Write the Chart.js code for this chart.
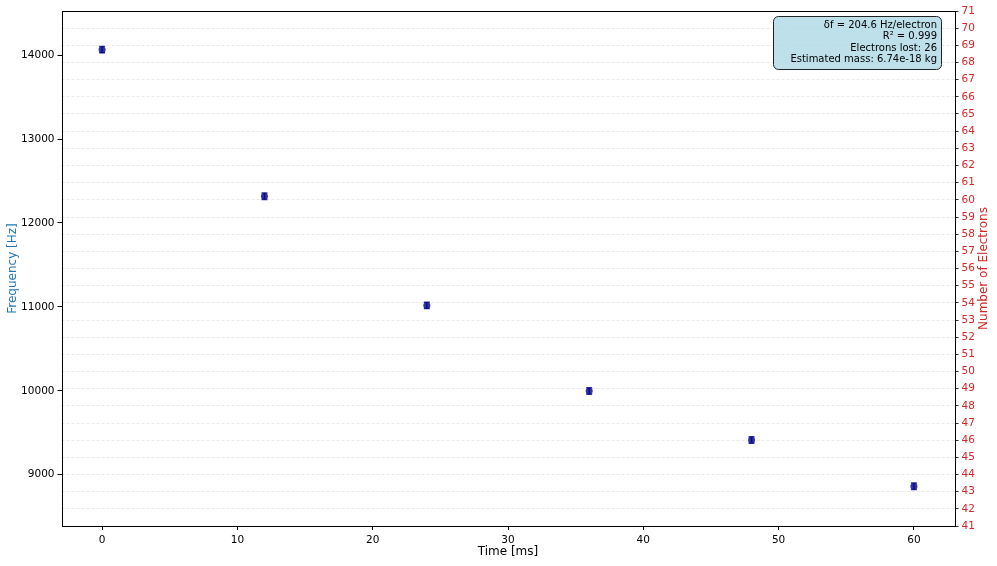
<!DOCTYPE html>
<html>
<head>
<meta charset="utf-8">
<script src="https://cdn.jsdelivr.net/npm/chart.js@4.4.1/dist/chart.umd.min.js"></script>
<style>
  html, body { margin: 0; padding: 0; background: #fff; }
  canvas { display: block; }
</style>
</head>
<body>
<canvas id="c" width="997" height="566"></canvas>
<script>
// ---- Data ----
const timesMs = [0, 12, 24, 36, 48, 60];
const frequenciesHz = [14066, 12318, 11018, 9998, 9413, 8863];
const freqErrorsHz = [38, 38, 38, 38, 38, 38];
const xTicks = [0, 10, 20, 30, 40, 50, 60];
const freqTicks = [9000, 10000, 11000, 12000, 13000, 14000];
const electronRange = [41, 71];
const deltaF = 204.6;
const annotationLines = [
  "\u03b4f = 204.6 Hz/electron",
  "R\u00b2 = 0.999",
  "Electrons lost: 26",
  "Estimated mass: 6.74e-18 kg"
];
const electronTicks = [];
for (let n = electronRange[0]; n <= electronRange[1]; n++) electronTicks.push(n);

const FONT = "'DejaVu Sans', sans-serif";
const RED = '#d62728';
const BLUE = '#1f77b4';

const errorBarPlugin = {
  id: 'errorBars',
  beforeDatasetsDraw(chart) {
    const ctx = chart.ctx;
    const xs = chart.scales.x, ys = chart.scales.y;
    ctx.save();
    ctx.strokeStyle = 'rgba(0,0,139,0.8)';
    ctx.lineWidth = 1.5;
    timesMs.forEach((t, i) => {
      const px = xs.getPixelForValue(t);
      const y1 = ys.getPixelForValue(frequenciesHz[i] - freqErrorsHz[i]);
      const y2 = ys.getPixelForValue(frequenciesHz[i] + freqErrorsHz[i]);
      ctx.beginPath();
      ctx.moveTo(px, y1); ctx.lineTo(px, y2);
      ctx.moveTo(px - 3, y1); ctx.lineTo(px + 3, y1);
      ctx.moveTo(px - 3, y2); ctx.lineTo(px + 3, y2);
      ctx.stroke();
    });
    ctx.restore();
  }
};

const decorPlugin = {
  id: 'decor',
  afterDraw(chart) {
    const ctx = chart.ctx;
    const a = chart.chartArea;
    ctx.save();
    // frame
    ctx.strokeStyle = '#000';
    ctx.lineWidth = 1;
    ctx.strokeRect(Math.round(a.left) + 0.5, Math.round(a.top) + 0.5,
                   Math.round(a.right - a.left), Math.round(a.bottom - a.top));
    // axis titles
    ctx.font = '12px ' + FONT;
    ctx.textAlign = 'center';
    ctx.textBaseline = 'middle';
    ctx.fillStyle = '#000';
    ctx.fillText('Time [ms]', (a.left + a.right) / 2, 552);
    const cy = (a.top + a.bottom) / 2;
    ctx.save();
    ctx.translate(13, cy);
    ctx.rotate(-Math.PI / 2);
    ctx.fillStyle = BLUE;
    ctx.fillText('Frequency [Hz]', 0, 0);
    ctx.restore();
    ctx.save();
    ctx.translate(984, cy);
    ctx.rotate(-Math.PI / 2);
    ctx.fillStyle = RED;
    ctx.fillText('Number of Electrons', 0, 0);
    ctx.restore();
    // annotation box
    const bx = 773.5, by = 16.5, bw = 168, bh = 53, r = 5;
    ctx.beginPath();
    ctx.moveTo(bx + r, by);
    ctx.lineTo(bx + bw - r, by);
    ctx.arcTo(bx + bw, by, bx + bw, by + r, r);
    ctx.lineTo(bx + bw, by + bh - r);
    ctx.arcTo(bx + bw, by + bh, bx + bw - r, by + bh, r);
    ctx.lineTo(bx + r, by + bh);
    ctx.arcTo(bx, by + bh, bx, by + bh - r, r);
    ctx.lineTo(bx, by + r);
    ctx.arcTo(bx, by, bx + r, by, r);
    ctx.closePath();
    ctx.fillStyle = 'rgba(173,216,230,0.8)';
    ctx.fill();
    ctx.strokeStyle = '#222';
    ctx.lineWidth = 1;
    ctx.stroke();
    ctx.fillStyle = '#000';
    ctx.font = '10px ' + FONT;
    ctx.textAlign = 'right';
    annotationLines.forEach((s, i) => {
      ctx.fillText(s, 937, 25 + i * 11.5);
    });
    ctx.restore();
  }
};

new Chart(document.getElementById('c'), {
  type: 'scatter',
  data: {
    datasets: [{
      data: timesMs.map((t, i) => ({ x: t, y: frequenciesHz[i] })),
      backgroundColor: 'rgba(0,0,139,0.8)',
      borderColor: 'rgba(0,0,139,0.8)',
      pointRadius: 3.5,
      pointBorderWidth: 0,
      yAxisID: 'y'
    }]
  },
  plugins: [errorBarPlugin, decorPlugin],
  options: {
    responsive: false,
    animation: false,
    devicePixelRatio: 1,
    layout: { padding: { top: 11, left: 0, right: 0, bottom: 0 } },
    plugins: { legend: { display: false }, tooltip: { enabled: false } },
    scales: {
      x: {
        type: 'linear',
        min: -3, max: 63,
        afterBuildTicks: s => { s.ticks = xTicks.map(v => ({ value: v })); },
        afterFit: s => { s.height = 40; },
        grid: { drawOnChartArea: false, drawTicks: true, tickLength: 4, tickColor: '#000' },
        border: { display: false },
        ticks: { color: '#000', font: { family: FONT, size: 10.5 }, padding: 4, maxRotation: 0 }
      },
      y: {
        type: 'linear',
        position: 'left',
        min: electronRange[0] * deltaF,
        max: electronRange[1] * deltaF,
        afterBuildTicks: s => { s.ticks = freqTicks.map(v => ({ value: v })); },
        afterFit: s => { s.width = 61.5; },
        grid: { drawOnChartArea: false, drawTicks: true, tickLength: 4, tickColor: '#000' },
        border: { display: false },
        ticks: { color: '#000', font: { family: FONT, size: 10.5 }, padding: 3,
                 callback: v => String(v) }
      },
      y2: {
        type: 'linear',
        position: 'right',
        min: electronRange[0], max: electronRange[1],
        afterBuildTicks: s => { s.ticks = electronTicks.map(v => ({ value: v })); },
        afterFit: s => { s.width = 42.5; },
        grid: { drawOnChartArea: true, drawTicks: true, tickLength: 4,
                color: 'rgba(0,0,0,0.11)', lineWidth: 0.8, tickColor: '#333', tickWidth: 1 },
        border: { display: false, dash: [3, 2] },
        ticks: { color: RED, font: { family: FONT, size: 10.5 }, padding: 3,
                 callback: v => String(v) }
      }
    }
  }
});
</script>
</body>
</html>
